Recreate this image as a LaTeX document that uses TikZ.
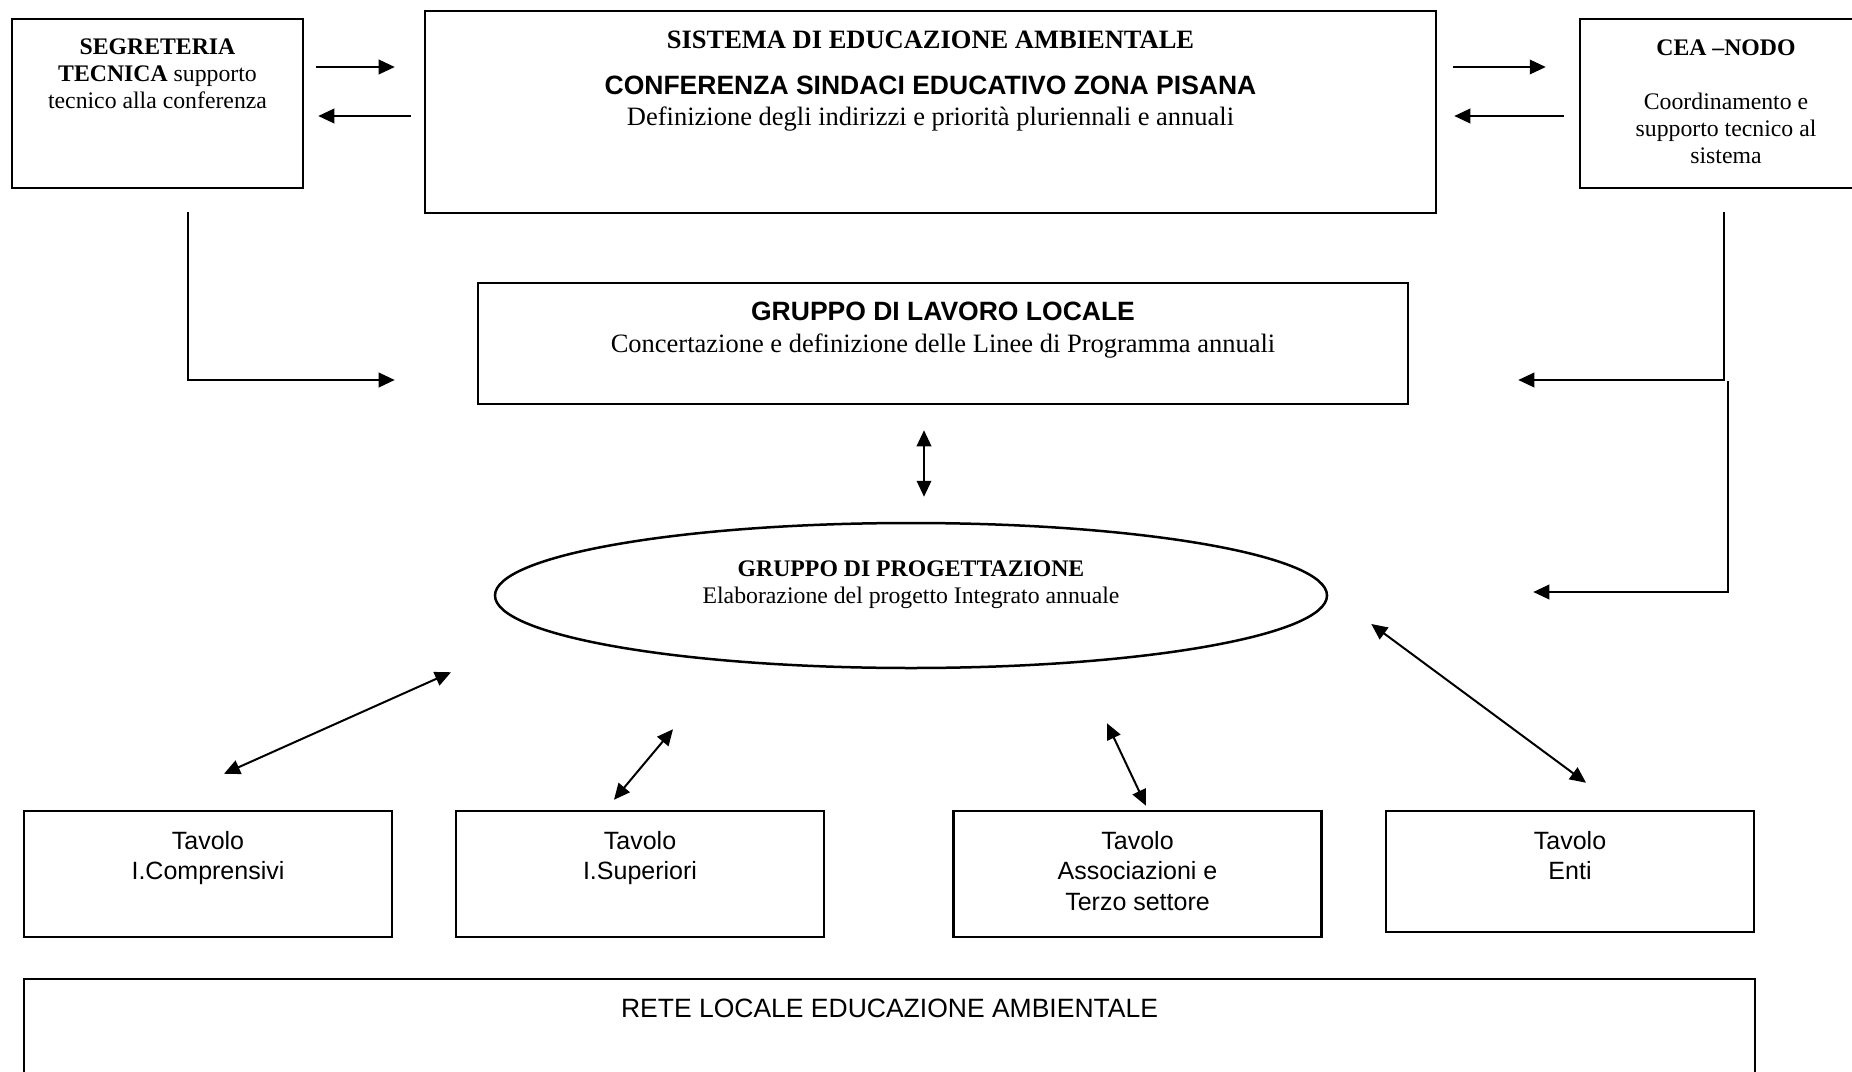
\documentclass[tikz,border=0pt]{standalone}
\usepackage{fontspec}
\setmainfont{Liberation Serif}
\setsansfont{Liberation Sans}
\usetikzlibrary{arrows.meta, shapes.geometric, positioning, calc}
\tikzstyle{box}=[draw, rectangle, line width=1pt, inner sep=0pt]
\tikzstyle{oval}=[draw, ellipse, line width=1pt, inner sep=0pt]
\tikzstyle{lbl}=[anchor=north, inner sep=0pt, align=center, font=\fontsize{9.5}{10.8}\selectfont]
\tikzstyle{lblbig}=[lbl, font=\fontsize{10.6}{12.4}\selectfont]
\tikzstyle{lbltav}=[lbl, font=\sffamily\fontsize{10}{12.2}\selectfont]
\tikzstyle{link}=[line width=0.8pt, -{Triangle[length=6.4pt, width=5.8pt]}]
\tikzstyle{dlink}=[line width=0.8pt, {Triangle[length=6.4pt, width=5.8pt]}-{Triangle[length=6.4pt, width=5.8pt]}]

\begin{document}
\begin{tikzpicture}[x=0.4pt, y=-0.4pt]
    \useasboundingbox (0, 0) rectangle (1852, 1072);

    % top row
    \node[box, minimum width=116.4pt, minimum height=67.6pt] (segr) at (157.5, 103.5) {};
    \node[box, minimum width=404.4pt, minimum height=80.8pt] (sistema) at (930.5, 112) {};
    \node[box, minimum width=116.8pt, minimum height=67.6pt] (cea) at (1726, 103.5) {};

    \node[lbl, below=8.1pt of segr.north] (segrtxt) {\textbf{SEGRETERIA}\\ \textbf{TECNICA} supporto\\ tecnico alla conferenza};
    \node[lblbig, below=8.1pt of sistema.north] (sistematxt) {\textbf{SISTEMA DI EDUCAZIONE AMBIENTALE}\\[6pt]
        \textsf{\bfseries CONFERENZA SINDACI EDUCATIVO ZONA PISANA}\\
        Definizione degli indirizzi e priorità pluriennali e annuali};
    \node[lbl, below=8.5pt of cea.north] (ceatxt) {\textbf{CEA –NODO}\\[10.8pt] Coordinamento e\\ supporto tecnico al\\ sistema};

    % middle
    \node[box, minimum width=372pt, minimum height=48.4pt] (lavoro) at (943, 343.5) {};
    \node[lblbig, font=\fontsize{10.6}{12.8}\selectfont, below=7.7pt of lavoro.north] (lavorotxt) {\textsf{\bfseries GRUPPO DI LAVORO LOCALE}\\
        Concertazione e definizione delle Linee di Programma annuali};

    \node[oval, minimum width=332.8pt, minimum height=58pt] (prog) at (911, 595.5) {};
    \node[lbl, below=15.3pt of prog.north] (progtxt) {\textbf{GRUPPO DI PROGETTAZIONE}\\ Elaborazione del progetto Integrato annuale};

    % tavoli
    \node[box, minimum width=147.2pt, minimum height=50.4pt] (tav1) at (208, 874) {};
    \node[box, minimum width=147.2pt, minimum height=50.4pt] (tav2) at (640, 874) {};
    \node[box, minimum width=147.2pt, minimum height=50.4pt] (tav3) at (1137.5, 874) {};
    \node[box, minimum width=147.2pt, minimum height=48.4pt] (tav4) at (1570, 871.5) {};

    \node[lbltav, below=8.3pt of tav1.north] (tav1txt) {Tavolo\\ I.Comprensivi};
    \node[lbltav, below=8.3pt of tav2.north] (tav2txt) {Tavolo\\ I.Superiori};
    \node[lbltav, below=8.3pt of tav3.north] (tav3txt) {Tavolo\\ Associazioni e\\ Terzo settore};
    \node[lbltav, below=8.3pt of tav4.north] (tav4txt) {Tavolo\\ Enti};

    \node[box, minimum width=692.4pt, minimum height=52pt] (rete) at (889.5, 1044) {};
    \node[lbltav, font=\sffamily\fontsize{10.6}{12.4}\selectfont, below=8.1pt of rete.north] (retetxt) {RETE LOCALE EDUCAZIONE AMBIENTALE};

    % connectors, top row
    \draw[link] ($(segr.east) + (12, -36.5)$) -- ($(sistema.west) + (-29, -45)$);
    \draw[link] ($(sistema.west) + (-13, 4)$) -- ($(segr.east) + (14, 12.5)$);
    \draw[link] ($(sistema.east) + (16, -45)$) -- ($(cea.west) + (-33, -36.5)$);
    \draw[link] ($(cea.west) + (-15, 12.5)$) -- ($(sistema.east) + (17, 4)$);

    \draw[link] ($(segr.south) + (30.5, 23)$) |- ($(lavoro.west) + (-82, 36.5)$);
    \draw[link] ($(cea.south) + (-2, 23)$) |- ($(lavoro.east) + (109, 36.5)$);
    \draw[link] ($(cea.south) + (2, 192)$) |- ($(prog.east) + (205, -3.5)$);

    \draw[dlink] ($(lavoro.south) + (-19, 25)$) -- ($(prog.north) + (13, -25)$);

    % connectors to the tavoli
    \draw[dlink] ($(prog.south) + (-460, 3)$) -- ($(tav1.north) + (16, -36)$);
    \draw[dlink] ($(prog.south) + (-238, 60)$) -- ($(tav2.north) + (-26, -10)$);
    \draw[dlink] ($(prog.south) + (196, 54)$) -- ($(tav3.north) + (8.5, -4)$);
    \draw[dlink] ($(prog.east) + (43, 28.5)$) -- ($(tav4.north) + (16, -27)$);
\end{tikzpicture}
\end{document}
